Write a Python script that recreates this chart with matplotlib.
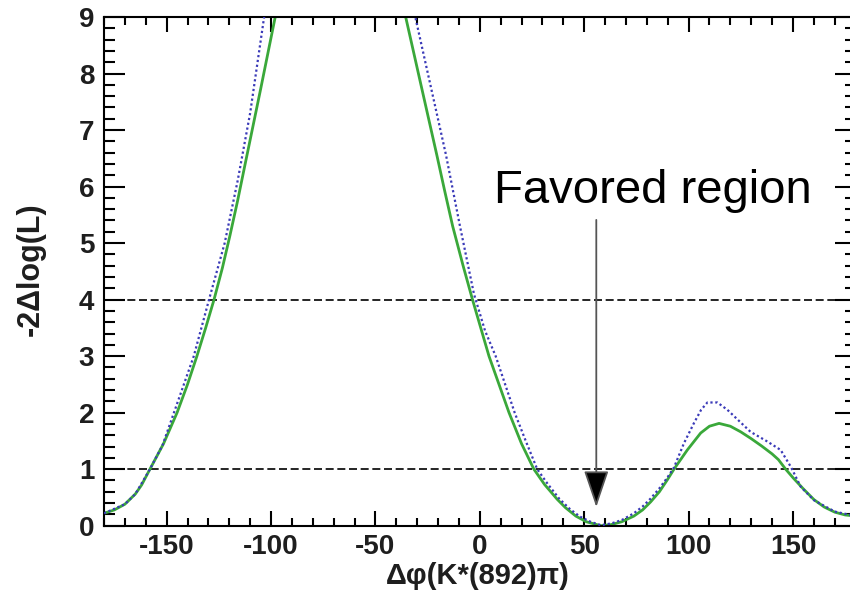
import numpy as np
import matplotlib
matplotlib.use('Agg')
import matplotlib.pyplot as plt
from matplotlib.ticker import MultipleLocator

plt.rcParams['font.family'] = ['Liberation Sans', 'DejaVu Sans']
plt.rcParams['axes.unicode_minus'] = False

# Green solid scan (NaN = gap where the curve runs above the frame)
green_x = [-180, -175, -170, -165, -162, -158, -151.5, -145, -140, -135.5, -131.3,
           -127.3, -123.3, -119.7, -116, -112.5, -105, -98.1, -94.7, np.nan,
           -39.2, -35.5, -28, -20.6, -16.8, -13, -8, -3.5, 4.4, 14.0, 20, 25.9, 31, 37,
           41, 46, 51, 58, 63, 68, 73.8, 78, 81.8, 86, 89.8, 93, 99.4, 105.8,
           110, 114.6, 120, 125, 130, 135, 140, 143, 146.5, 150, 155, 160.1,
           165, 170, 175, 180]
green_y = [0.22, 0.28, 0.38, 0.56, 0.72, 1.0, 1.45, 2.0, 2.5, 3.0, 3.5,
           4.0, 4.56, 5.13, 5.75, 6.38, 7.72, 8.98, 9.6, np.nan,
           9.6, 9.0, 7.77, 6.56, 5.92, 5.3, 4.6, 4.0, 3.0, 2.0, 1.45, 1.0, 0.73, 0.47,
           0.32, 0.17, 0.07, 0.0, 0.02, 0.07, 0.17, 0.28, 0.42, 0.6, 0.81, 1.0, 1.34, 1.64,
           1.76, 1.81, 1.76, 1.66, 1.54, 1.41, 1.27, 1.17, 1.0, 0.85, 0.65, 0.46,
           0.33, 0.24, 0.19, 0.17]

# Blue dotted scan
blue_x = [-180, -170, -165, -158, -152, -146.5, -137, -129.7, -122.2, -116, -110,
          -103.5, -100.5, np.nan,
          -34.3, -30.9, -16.2, -9.5, -2.8, 2.5, 7.6, 16.7, 22, 27.5, 32.5, 38, 43, 48, 53,
          58, 63, 68, 73.8, 78, 81.8, 86, 89.8, 93, 97.8, 102.5, 106, 109, 113.8,
          118.6, 124, 129.7, 137.7, 144.1, 149, 153.7, 160.1, 170, 180]
blue_y = [0.22, 0.38, 0.56, 1.0, 1.42, 2.0, 3.0, 4.0, 5.0, 6.1, 7.3,
          8.95, 9.6, np.nan,
          9.6, 9.0, 6.56, 5.3, 4.1, 3.45, 3.0, 2.0, 1.5, 1.0, 0.74, 0.48, 0.3, 0.16, 0.07,
          0.01, 0.04, 0.1, 0.22, 0.34, 0.48, 0.66, 0.85, 1.03, 1.46, 1.81, 2.05, 2.18, 2.18,
          2.05, 1.86, 1.66, 1.49, 1.34, 1.04, 0.69, 0.45, 0.25, 0.17]

ref_levels = [1, 4]
arrow_x = 55.8
arrow_top, arrow_tip = 5.41, 0.33
note_x, note_y = 6.6, 5.71


def main():
    fig = plt.figure(figsize=(8.5, 5.97), dpi=100)
    ax = fig.add_axes([104 / 850, 1 - 525.7 / 597, 751.6 / 850, 508.7 / 597])

    for lvl in ref_levels:
        ax.axhline(lvl, color='black', lw=1.2, dashes=(4.8, 2.2), zorder=1)

    ax.plot(blue_x, blue_y, color='#3a3ab8', lw=1.6, ls=(0, (1, 1.2)), zorder=3)
    ax.plot(green_x, green_y, color='#3aa83a', lw=2.0, zorder=2)

    ax.text(note_x, note_y, 'Favored region', fontsize=34, va='baseline', ha='left')
    ax.annotate('', xy=(arrow_x, arrow_tip), xytext=(arrow_x, arrow_top),
                arrowprops=dict(arrowstyle='-|>,head_length=2.3,head_width=0.78',
                                ec='#555555', fc='black', lw=1.3,
                                shrinkA=0, shrinkB=0))

    ax.set_xlim(-180, 180)
    ax.set_ylim(0, 9)
    ax.xaxis.set_major_locator(MultipleLocator(50))
    ax.xaxis.set_minor_locator(MultipleLocator(10))
    ax.yaxis.set_major_locator(MultipleLocator(1))
    ax.yaxis.set_minor_locator(MultipleLocator(0.2))

    ax.tick_params(axis='both', which='both', direction='in', top=True, right=True,
                   width=1.5, colors='black')
    ax.tick_params(axis='x', which='major', length=11, pad=6)
    ax.tick_params(axis='x', which='minor', length=6)
    ax.tick_params(axis='y', which='major', length=15, pad=7)
    ax.tick_params(axis='y', which='minor', length=8)
    for lab in ax.get_xticklabels() + ax.get_yticklabels():
        lab.set_fontsize(20)
        lab.set_fontweight('bold')
        lab.set_color('#1e1e1e')

    for sp in ax.spines.values():
        sp.set_linewidth(1.5)

    ax.set_xlabel('Δφ(K*(892)π)', fontsize=21, fontweight='bold', color='#1e1e1e')
    ax.set_ylabel('-2Δlog(L)', fontsize=22, fontweight='bold', color='#1e1e1e')
    ax.xaxis.set_label_coords(0.498, -0.071)
    ax.xaxis.label.set_va('top')
    ax.yaxis.set_label_coords(-0.078, 0.504)

    fig.savefig('out.png', dpi=100)


if __name__ == '__main__':
    main()
